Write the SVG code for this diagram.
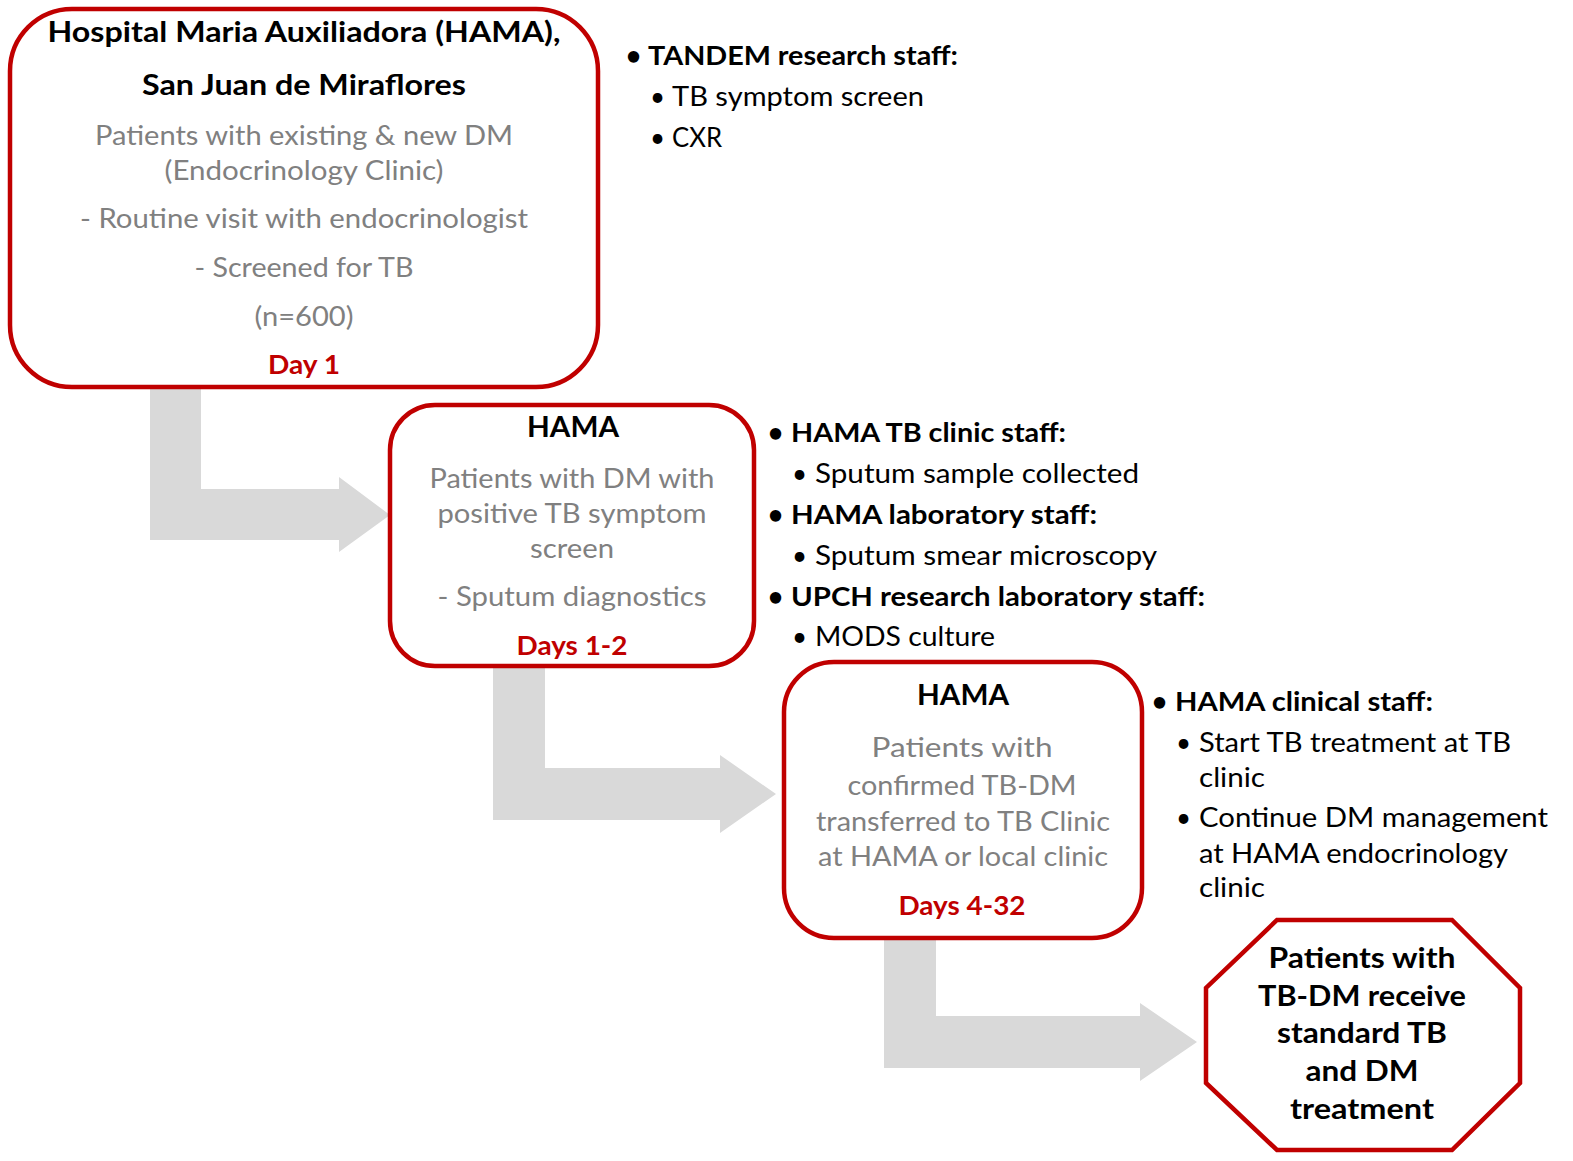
<svg xmlns="http://www.w3.org/2000/svg" width="1573" height="1161" viewBox="0 0 1573 1161">
<style>
text{font-family:Lato,"Liberation Sans",sans-serif;}
.box{fill:#fff;stroke:#C00000;stroke-width:4.5;}
.arrow{fill:#D9D9D9;stroke:none;}
.t{font-weight:bold;font-size:28px;fill:#000;text-anchor:middle;}
.g{font-size:26px;fill:#808080;text-anchor:middle;}
.d{font-weight:bold;font-size:27px;fill:#C00000;text-anchor:middle;}
.b{font-weight:bold;font-size:26px;fill:#000;}
.r{font-size:26px;fill:#000;}
.o{font-weight:bold;font-size:28px;fill:#000;text-anchor:middle;}
</style>
<rect width="1573" height="1161" fill="#fff"/>
<g id="connectors">
<path class="arrow" d="M150,385 H201 V489 H339 V477 L390,515 L339,552 V540 H150 Z"/>
<path class="arrow" d="M493,664 H545 V768 H720 V755 L776,794 L720,833 V820 H493 Z"/>
<path class="arrow" d="M884,936 H936 V1016 H1140 V1003 L1197,1042 L1140,1081 V1068 H884 Z"/>
</g>
<g id="node-hama-main">
<rect class="box" x="10" y="9" width="588" height="378" rx="62"/>
<text class="t" x="304" y="42" textLength="513" lengthAdjust="spacingAndGlyphs">Hospital Maria Auxiliadora (HAMA),</text>
<text class="t" x="304" y="95" textLength="324" lengthAdjust="spacingAndGlyphs">San Juan de Miraflores</text>
<text class="g" x="304" y="145" textLength="418" lengthAdjust="spacingAndGlyphs">Patients with existing &amp; new DM</text>
<text class="g" x="304" y="180" textLength="279" lengthAdjust="spacingAndGlyphs">(Endocrinology Clinic)</text>
<text class="g" x="304" y="228" textLength="448" lengthAdjust="spacingAndGlyphs">- Routine visit with endocrinologist</text>
<text class="g" x="304" y="277" textLength="219" lengthAdjust="spacingAndGlyphs">- Screened for TB</text>
<text class="g" x="304" y="326" textLength="99" lengthAdjust="spacingAndGlyphs">(n=600)</text>
<text class="d" x="304" y="374" textLength="72" lengthAdjust="spacingAndGlyphs">Day 1</text>
</g>
<g id="node-hama-sputum">
<rect class="box" x="390" y="405" width="364" height="261" rx="45"/>
<text class="t" x="573" y="437" textLength="92" lengthAdjust="spacingAndGlyphs">HAMA</text>
<text class="g" x="572" y="488" textLength="285" lengthAdjust="spacingAndGlyphs">Patients with DM with</text>
<text class="g" x="572" y="523" textLength="269" lengthAdjust="spacingAndGlyphs">positive TB symptom</text>
<text class="g" x="572" y="558" textLength="84" lengthAdjust="spacingAndGlyphs">screen</text>
<text class="g" x="572" y="606" textLength="269" lengthAdjust="spacingAndGlyphs">- Sputum diagnostics</text>
<text class="d" x="572" y="655" textLength="111" lengthAdjust="spacingAndGlyphs">Days 1-2</text>
</g>
<g id="node-hama-confirmed">
<rect class="box" x="784" y="662" width="358" height="276" rx="50"/>
<text class="t" x="963" y="705" textLength="92" lengthAdjust="spacingAndGlyphs">HAMA</text>
<text class="g" x="962" y="757" textLength="181" lengthAdjust="spacingAndGlyphs">Patients with</text>
<text class="g" x="962" y="795" textLength="229" lengthAdjust="spacingAndGlyphs">confirmed TB-DM</text>
<text class="g" x="963" y="831" textLength="294" lengthAdjust="spacingAndGlyphs">transferred to TB Clinic</text>
<text class="g" x="963" y="866" textLength="290" lengthAdjust="spacingAndGlyphs">at HAMA or local clinic</text>
<text class="d" x="962" y="915" textLength="127" lengthAdjust="spacingAndGlyphs">Days 4-32</text>
</g>
<g id="node-treatment">
<polygon class="box" points="1277,920 1452,920 1520,988 1520,1083 1452,1150 1277,1150 1206,1083 1206,988"/>
<text class="o" x="1362" y="968" textLength="187" lengthAdjust="spacingAndGlyphs">Patients with</text>
<text class="o" x="1362" y="1006" textLength="208" lengthAdjust="spacingAndGlyphs">TB-DM receive</text>
<text class="o" x="1362" y="1043" textLength="170" lengthAdjust="spacingAndGlyphs">standard TB</text>
<text class="o" x="1362" y="1081" textLength="113" lengthAdjust="spacingAndGlyphs">and DM</text>
<text class="o" x="1362" y="1119" textLength="144" lengthAdjust="spacingAndGlyphs">treatment</text>
</g>
<g id="notes-tandem">
<text class="b" x="626" y="65">•</text>
<text class="b" x="648" y="65" textLength="310" lengthAdjust="spacingAndGlyphs">TANDEM research staff:</text>
<text class="r" x="650" y="106">•</text>
<text class="r" x="672" y="106" textLength="252" lengthAdjust="spacingAndGlyphs">TB symptom screen</text>
<text class="r" x="650" y="147">•</text>
<text class="r" x="672" y="147" textLength="50" lengthAdjust="spacingAndGlyphs">CXR</text>
</g>
<g id="notes-hama-lab">
<text class="b" x="768" y="442">•</text>
<text class="b" x="791" y="442" textLength="275" lengthAdjust="spacingAndGlyphs">HAMA TB clinic staff:</text>
<text class="r" x="792" y="483">•</text>
<text class="r" x="815" y="483" textLength="324" lengthAdjust="spacingAndGlyphs">Sputum sample collected</text>
<text class="b" x="768" y="524">•</text>
<text class="b" x="791" y="524" textLength="306" lengthAdjust="spacingAndGlyphs">HAMA laboratory staff:</text>
<text class="r" x="792" y="565">•</text>
<text class="r" x="815" y="565" textLength="342" lengthAdjust="spacingAndGlyphs">Sputum smear microscopy</text>
<text class="b" x="768" y="606">•</text>
<text class="b" x="791" y="606" textLength="414" lengthAdjust="spacingAndGlyphs">UPCH research laboratory staff:</text>
<text class="r" x="792" y="646">•</text>
<text class="r" x="815" y="646" textLength="180" lengthAdjust="spacingAndGlyphs">MODS culture</text>
</g>
<g id="notes-hama-clinical">
<text class="b" x="1152" y="711">•</text>
<text class="b" x="1175" y="711" textLength="258" lengthAdjust="spacingAndGlyphs">HAMA clinical staff:</text>
<text class="r" x="1176" y="752">•</text>
<text class="r" x="1199" y="752" textLength="312" lengthAdjust="spacingAndGlyphs">Start TB treatment at TB</text>
<text class="r" x="1199" y="787" textLength="66" lengthAdjust="spacingAndGlyphs">clinic</text>
<text class="r" x="1176" y="827">•</text>
<text class="r" x="1199" y="827" textLength="349" lengthAdjust="spacingAndGlyphs">Continue DM management</text>
<text class="r" x="1199" y="863" textLength="309" lengthAdjust="spacingAndGlyphs">at HAMA endocrinology</text>
<text class="r" x="1199" y="897" textLength="66" lengthAdjust="spacingAndGlyphs">clinic</text>
</g>
</svg>
